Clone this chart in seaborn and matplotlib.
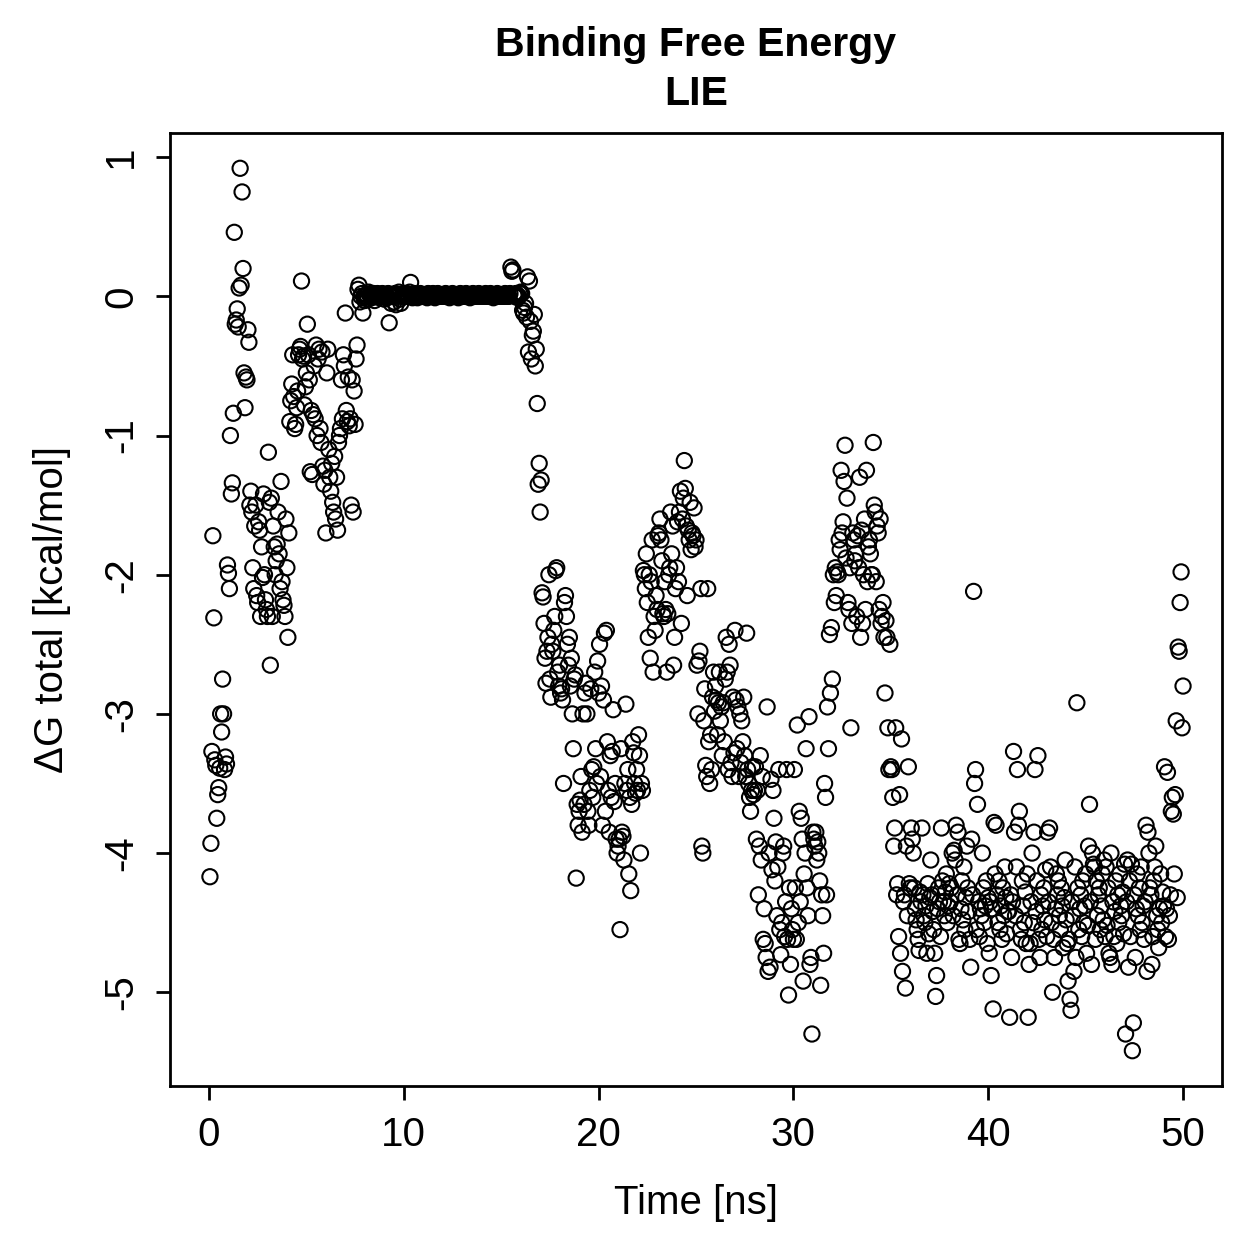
import numpy as np
import pandas as pd
import matplotlib
matplotlib.use("Agg")
import matplotlib.pyplot as plt
import seaborn as sns

# LIE binding free energy trajectory, one frame every 0.05 ns (20 frames per ns)
frame_step_ns = 0.05

# dG total [kcal/mol], one row per ns
dg_0_10 = [
    -4.17, -3.93, -3.27, -1.72, -2.31, -3.33, -3.37, -3.75, -3.58, -3.53, -3.39, -3.00, -3.13, -2.75, -3.00, -3.40, -3.31, -3.36, -1.93, -1.99,
    -2.10, -1.00, -1.42, -1.34, -0.84, 0.46, -0.20, -0.17, -0.09, -0.22, 0.06, 0.92, 0.08, 0.75, 0.20, -0.55, -0.80, -0.58, -0.60, -0.24,
    -0.33, -1.50, -1.40, -1.55, -1.95, -2.10, -1.65, -1.50, -2.15, -2.20, -1.62, -1.68, -2.30, -1.80, -2.02, -1.42, -2.00, -2.18, -2.25, -2.30,
    -1.12, -1.48, -2.65, -1.45, -2.30, -1.65, -1.80, -2.00, -1.90, -1.78, -1.55, -1.85, -2.10, -1.33, -2.05, -2.18, -2.22, -2.30, -1.60, -1.95,
    -2.45, -1.70, -0.90, -0.75, -0.63, -0.42, -0.72, -0.95, -0.92, -0.80, -0.68, -0.42, -0.38, -0.36, 0.11, -0.45, -0.43, -0.78, -0.65, -0.55,
    -0.20, -0.42, -0.60, -1.26, -0.82, -1.28, -0.85, -0.50, -0.88, -0.35, -1.00, -0.45, -0.38, -0.95, -1.05, -0.40, -1.22, -1.35, -1.25, -1.70,
    -0.55, -0.38, -1.10, -1.30, -1.40, -1.20, -1.48, -1.55, -1.15, -1.60, -1.30, -1.68, -1.05, -1.00, -0.95, -0.60, -0.88, -0.42, -0.50, -0.12,
    -0.82, -0.90, -0.58, -0.93, -0.88, -1.50, -0.60, -1.55, -0.68, -0.92, -0.45, -0.35, 0.05, 0.08, -0.04, 0.00, 0.02, -0.12, 0.00, -0.03,
    0.00, 0.01, -0.02, 0.03, 0.01, 0.02, -0.01, 0.00, 0.02, -0.03, 0.00, 0.01, 0.02, 0.00, -0.01, 0.01, 0.00, 0.02, 0.01, -0.02,
    0.00, 0.01, -0.01, 0.02, -0.19, 0.00, -0.05, 0.01, 0.00, -0.04, 0.02, -0.06, 0.00, 0.01, 0.03, -0.02, -0.05, 0.00, 0.01, 0.02,
]
dg_10_20 = [
    0.01, 0.00, 0.02, 0.00, 0.01, 0.03, 0.10, 0.00, -0.01, 0.01, 0.02, 0.00, 0.01, -0.01, 0.00, 0.01, 0.02, 0.00, 0.01, 0.00,
    0.00, 0.01, 0.00, -0.01, 0.02, 0.00, 0.01, 0.00, 0.01, 0.02, 0.00, -0.01, 0.01, 0.00, 0.02, 0.01, 0.00, 0.01, 0.00, 0.01,
    0.01, 0.00, 0.02, 0.00, 0.01, 0.00, -0.01, 0.01, 0.00, 0.02, 0.01, 0.00, 0.01, 0.00, 0.01, -0.01, 0.00, 0.02, 0.01, 0.00,
    0.00, 0.01, 0.00, 0.02, 0.01, 0.00, 0.01, -0.01, 0.00, 0.01, 0.02, 0.00, 0.01, 0.00, 0.01, 0.00, 0.02, 0.01, 0.00, 0.01,
    0.01, 0.00, 0.01, 0.02, 0.00, 0.01, 0.00, 0.01, 0.02, 0.00, 0.01, -0.01, 0.00, 0.01, 0.00, 0.02, 0.01, 0.00, 0.01, 0.00,
    0.00, 0.01, 0.00, 0.02, 0.01, 0.00, 0.01, 0.00, 0.02, 0.21, 0.18, 0.19, 0.01, 0.00, 0.02, 0.01, -0.01, 0.00, 0.02, 0.03,
    0.02, -0.10, -0.12, -0.08, -0.05, -0.15, 0.14, -0.40, 0.11, -0.18, -0.45, -0.28, -0.25, -0.13, -0.50, -0.38, -0.77, -1.35, -1.20, -1.55,
    -1.32, -2.13, -2.16, -2.35, -2.60, -2.78, -2.55, -2.45, -2.00, -2.75, -2.88, -2.50, -2.55, -2.40, -2.30, -1.97, -1.95, -2.70, -2.80, -2.65,
    -2.85, -2.82, -2.90, -3.50, -2.20, -2.15, -2.30, -2.50, -2.65, -2.45, -2.80, -2.60, -3.00, -3.25, -2.75, -2.72, -4.18, -3.65, -3.80, -3.70,
    -3.62, -3.45, -3.85, -3.00, -3.65, -2.85, -2.78, -3.00, -3.70, -3.80, -3.55, -2.82, -3.40, -3.60, -3.38, -2.70, -3.25, -3.50, -2.62, -2.85,
]
dg_20_30 = [
    -2.50, -3.45, -2.80, -3.80, -2.90, -2.42, -3.70, -2.40, -3.20, -3.55, -3.85, -3.30, -3.60, -3.27, -2.97, -3.63, -3.50, -3.90, -4.00, -3.95,
    -3.90, -4.55, -3.25, -3.85, -3.88, -4.05, -3.50, -2.93, -3.55, -3.40, -4.15, -3.60, -4.27, -3.65, -3.20, -3.28, -3.50, -3.57, -3.40, -3.55,
    -3.15, -3.30, -4.00, -3.50, -3.55, -1.97, -2.00, -2.10, -1.85, -2.20, -2.45, -2.00, -2.60, -2.05, -1.75, -2.70, -2.30, -2.40, -2.15, -2.25,
    -1.72, -1.70, -1.60, -1.75, -1.90, -2.28, -2.30, -2.05, -2.25, -2.70, -2.28, -2.00, -1.95, -1.55, -1.85, -1.65, -2.65, -2.45, -2.10, -1.95,
    -1.62, -2.05, -1.55, -1.40, -2.35, -1.60, -1.45, -1.18, -1.38, -1.65, -2.15, -1.68, -1.75, -1.48, -1.82, -1.70, -1.72, -1.52, -1.80, -1.75,
    -2.65, -3.00, -2.62, -2.55, -2.10, -3.95, -4.00, -3.05, -2.82, -3.37, -3.45, -2.10, -3.20, -3.50, -3.15, -3.40, -2.88, -2.70, -2.98, -2.80,
    -2.90, -3.15, -2.92, -2.70, -3.05, -2.95, -3.30, -2.92, -3.20, -2.75, -2.45, -2.70, -3.40, -2.50, -2.65, -3.35, -3.45, -2.88, -3.28, -2.40,
    -2.90, -3.25, -2.95, -3.45, -3.00, -3.35, -3.05, -3.20, -2.88, -3.30, -3.45, -2.42, -3.40, -3.50, -3.60, -3.70, -3.55, -3.38, -3.58, -3.55,
    -3.38, -3.90, -3.55, -4.30, -3.95, -3.30, -4.05, -3.45, -4.62, -4.40, -4.65, -4.75, -2.95, -4.85, -4.00, -4.82, -3.47, -4.12, -3.55, -3.75,
    -4.20, -3.92, -4.45, -4.10, -3.40, -4.55, -4.73, -4.50, -4.00, -3.95, -4.60, -4.35, -3.40, -4.62, -5.02, -4.25, -4.80, -4.40, -4.55, -4.62,
]
dg_30_40 = [
    -3.40, -4.25, -4.62, -3.08, -4.50, -3.70, -4.35, -3.75, -3.90, -4.92, -4.15, -4.00, -3.25, -4.25, -4.45, -3.02, -4.80, -4.75, -5.30, -3.85,
    -3.90, -3.95, -3.85, -4.05, -3.92, -4.00, -4.20, -4.95, -4.30, -4.45, -4.72, -3.50, -3.60, -4.30, -2.95, -3.25, -2.43, -2.85, -2.38, -2.75,
    -2.00, -2.20, -1.95, -2.15, -1.98, -2.00, -1.75, -1.82, -1.25, -1.70, -1.62, -1.33, -1.07, -1.88, -1.45, -2.20, -2.25, -1.95, -3.10, -2.35,
    -1.70, -1.75, -1.90, -1.85, -2.30, -1.72, -1.95, -1.30, -2.45, -1.68, -2.35, -2.00, -1.60, -2.25, -1.25, -2.05, -1.80, -1.75, -1.85, -2.00,
    -2.00, -1.05, -1.50, -1.55, -2.05, -1.65, -1.70, -2.25, -1.60, -2.35, -2.30, -2.20, -2.45, -2.85, -2.33, -2.45, -3.10, -3.40, -2.50, -3.38,
    -3.40, -3.60, -3.95, -3.82, -3.10, -4.30, -4.22, -4.60, -3.58, -4.72, -3.18, -4.85, -4.35, -4.30, -4.97, -3.95, -4.45, -3.38, -4.22, -4.25,
    -3.82, -3.90, -4.00, -4.25, -4.40, -4.48, -4.55, -4.62, -4.70, -4.28, -4.35, -3.82, -4.30, -4.45, -4.50, -4.38, -4.72, -4.22, -4.58, -4.32,
    -4.05, -4.30, -4.42, -4.55, -4.72, -5.03, -4.88, -4.40, -4.25, -4.35, -4.60, -3.82, -4.20, -4.35, -4.45, -4.28, -4.15, -4.50, -4.38, -4.22,
    -4.35, -4.25, -4.00, -4.45, -3.98, -4.05, -3.80, -4.30, -3.85, -4.62, -4.65, -4.40, -4.20, -4.48, -4.10, -4.55, -4.32, -3.95, -4.25, -4.42,
    -4.62, -4.82, -3.90, -4.30, -2.12, -3.50, -3.40, -4.55, -3.65, -4.35, -4.60, -4.40, -4.45, -4.00, -4.25, -4.50, -4.38, -4.20, -4.65, -4.32,
]
dg_40_50 = [
    -4.72, -4.35, -4.88, -4.40, -5.12, -3.78, -4.15, -3.80, -4.30, -4.50, -4.20, -4.55, -4.38, -4.62, -4.25, -4.45, -4.10, -4.32, -4.58, -4.42,
    -4.42, -5.18, -4.30, -4.75, -4.35, -3.27, -3.85, -4.45, -4.10, -3.40, -3.80, -3.70, -4.55, -4.62, -4.20, -4.38, -4.50, -4.28, -4.65, -4.15,
    -5.18, -4.80, -4.65, -4.35, -4.00, -4.50, -3.85, -3.40, -4.42, -4.20, -3.30, -4.62, -4.75, -4.30, -4.55, -4.38, -4.25, -4.48, -4.12, -4.60,
    -3.85, -4.35, -3.82, -4.10, -4.50, -5.00, -4.62, -4.75, -4.40, -4.15, -4.30, -4.20, -4.45, -4.55, -4.25, -4.38, -4.68, -4.32, -4.05, -4.48,
    -4.65, -4.92, -4.62, -5.05, -5.13, -4.35, -4.45, -4.85, -4.10, -4.75, -2.92, -4.25, -4.55, -4.40, -4.30, -4.60, -4.20, -4.50, -4.38, -4.15,
    -4.72, -4.52, -3.95, -3.65, -4.35, -4.80, -4.00, -4.08, -4.10, -4.62, -4.20, -4.45, -4.30, -4.25, -4.55, -4.38, -4.15, -4.48, -4.05, -4.60,
    -4.10, -4.52, -4.25, -4.72, -4.75, -4.00, -4.80, -4.35, -4.60, -4.42, -4.20, -4.65, -4.30, -4.50, -4.15, -4.38, -4.45, -4.28, -4.58, -4.08,
    -5.30, -4.35, -4.05, -4.82, -4.20, -4.60, -4.08, -5.42, -5.22, -4.30, -4.75, -4.40, -4.15, -4.45, -4.25, -4.55, -4.10, -4.50, -4.38, -4.62,
    -4.35, -3.80, -4.85, -3.85, -4.00, -4.25, -4.30, -4.80, -4.60, -4.20, -4.10, -3.95, -4.45, -4.55, -4.68, -4.40, -4.15, -4.50, -4.28, -4.38,
    -3.38, -4.60, -4.40, -3.42, -4.62, -4.45, -4.30, -3.70, -3.60, -3.72, -4.15, -3.58, -3.05, -4.32, -2.52, -2.55, -2.20, -1.98, -3.10, -2.80,
]

x_ticks = [0, 10, 20, 30, 40, 50]
y_ticks = [-5, -4, -3, -2, -1, 0, 1]

dg = np.array(dg_0_10 + dg_10_20 + dg_20_30 + dg_30_40 + dg_40_50)
df = pd.DataFrame({
    "time": np.arange(1, len(dg) + 1) * frame_step_ns,
    "dg": dg,
})

sns.set_style("ticks")
plt.rcParams["font.family"] = ["Liberation Sans", "DejaVu Sans"]
plt.rcParams["text.color"] = "black"
plt.rcParams["axes.labelcolor"] = "black"

fig = plt.figure(figsize=(1259 / 200, 1259 / 200), dpi=200)
ax = fig.add_axes([170 / 1259, 1 - 1086 / 1259, (1222 - 170) / 1259, (1086 - 133) / 1259])

sns.scatterplot(data=df, x="time", y="dg", ax=ax, marker="o", s=30,
                facecolor="none", edgecolor="black", linewidth=0.75, legend=False)

# R-style axis ranges (data range + 4%)
xr = df["time"].min() - frame_step_ns, df["time"].max()
ax.set_xlim(xr[0] - 0.04 * (xr[1] - xr[0]), xr[1] + 0.04 * (xr[1] - xr[0]))
lo, hi = df["dg"].min(), df["dg"].max()
ax.set_ylim(lo - 0.04 * (hi - lo), hi + 0.04 * (hi - lo))

ax.set_xticks(x_ticks)
ax.set_yticks(y_ticks)
ax.set_yticklabels([str(v) for v in y_ticks], rotation=90, va="center")
ax.tick_params(axis="both", direction="out", length=5.2, width=1.0, pad=5.5,
               labelsize=14.5, colors="black")
for sp in ax.spines.values():
    sp.set_linewidth(1.0)
    sp.set_color("black")

ax.set_xlabel("Time [ns]", fontsize=14.5, color="black")
ax.set_ylabel("ΔG total [kcal/mol]", fontsize=14.5, color="black")
ax.xaxis.set_label_coords(0.5, (1086 - 1203) / (1086 - 133))
ax.xaxis.label.set_va("center")
ax.yaxis.set_label_coords((52 - 170) / (1222 - 170), 0.5)
ax.yaxis.label.set_va("center")

cx = (170 + 1222) / 2 / 1259
fig.text(cx, 1 - 45 / 1259, "Binding Free Energy", ha="center", va="center",
         fontsize=14.8, fontweight="bold", color="black")
fig.text(cx, 1 - 94 / 1259, "LIE", ha="center", va="center",
         fontsize=14.8, fontweight="bold", color="black")

fig.savefig("out.png", dpi=200, facecolor="white")
